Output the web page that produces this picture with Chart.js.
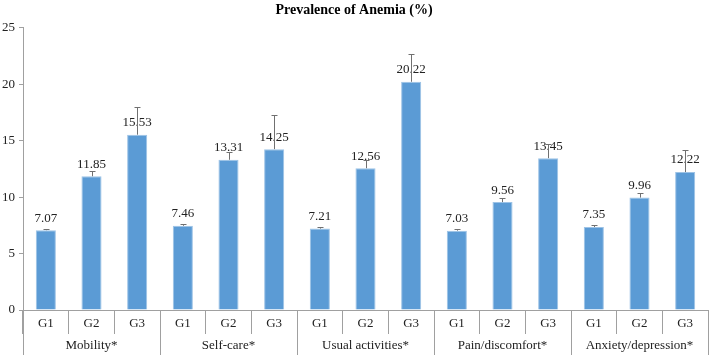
<!DOCTYPE html>
<html>
<head>
<meta charset="utf-8">
<script src="https://cdn.jsdelivr.net/npm/chart.js@4"></script>
<style>
  html, body { margin: 0; padding: 0; background: #fff; }
  #wrap { width: 709px; height: 355px; }
</style>
</head>
<body>
<div id="wrap"><canvas id="chart" width="709" height="355"></canvas></div>
<script>
const groups = ["Mobility*", "Self-care*", "Usual activities*", "Pain/discomfort*", "Anxiety/depression*"];
const subgroups = ["G1", "G2", "G3"];
const values = [7.07, 11.85, 15.53, 7.46, 13.31, 14.25, 7.21, 12.56, 20.22, 7.03, 9.56, 13.45, 7.35, 9.96, 12.22];
const upperErr = [7.2, 12.27, 18.0, 7.6, 14.0, 17.3, 7.35, 13.3, 22.7, 7.2, 9.95, 14.7, 7.5, 10.4, 14.2];
const yTicks = [0, 5, 10, 15, 20, 25];

const labels = [];
groups.forEach(() => subgroups.forEach(s => labels.push(s)));

const serif = "'Liberation Serif', 'Times New Roman', serif";

// value labels, then error bars on top of them
const barExtras = {
  id: "barExtras",
  afterDatasetsDraw(chart) {
    const ctx = chart.ctx;
    const meta = chart.getDatasetMeta(0);
    const y = chart.scales.y;
    ctx.save();
    ctx.font = "13px " + serif;
    ctx.fillStyle = "#222";
    ctx.textAlign = "center";
    ctx.textBaseline = "middle";
    meta.data.forEach((bar, i) => {
      ctx.fillText(values[i].toFixed(2), bar.x, bar.y - 12);
    });
    ctx.strokeStyle = "#707070";
    ctx.lineWidth = 1;
    meta.data.forEach((bar, i) => {
      const top = Math.round(y.getPixelForValue(upperErr[i])) + 0.5;
      const x = Math.round(bar.x) + 0.5;
      ctx.beginPath();
      ctx.moveTo(x, bar.y);
      ctx.lineTo(x, top);
      ctx.moveTo(x - 3, top);
      ctx.lineTo(x + 3, top);
      ctx.stroke();
    });
    ctx.restore();
  }
};

// group labels and group separators under the G1..G3 row
const groupAxis = {
  id: "groupAxis",
  afterDraw(chart) {
    const ctx = chart.ctx;
    const x = chart.scales.x;
    const n = subgroups.length;
    const half = (x.getPixelForValue(1) - x.getPixelForValue(0)) / 2;
    ctx.save();
    ctx.strokeStyle = "#a0a0a0";
    ctx.lineWidth = 1;
    ctx.font = "13px " + serif;
    ctx.fillStyle = "#222";
    ctx.textAlign = "center";
    ctx.textBaseline = "middle";
    const top = x.top;
    const bottom = chart.height;
    for (let g = 0; g <= groups.length; g++) {
      let px = g < groups.length ? x.getPixelForValue(g * n) - half : x.getPixelForValue(g * n - 1) + half;
      px = Math.round(px) + 0.5;
      ctx.beginPath();
      ctx.moveTo(px, top);
      ctx.lineTo(px, bottom);
      ctx.stroke();
    }
    groups.forEach((name, g) => {
      const cx = (x.getPixelForValue(g * n) + x.getPixelForValue(g * n + n - 1)) / 2;
      ctx.fillText(name, cx, x.top + 36);
    });
    ctx.restore();
  }
};

new Chart(document.getElementById("chart"), {
  type: "bar",
  data: {
    labels: labels,
    datasets: [{
      data: values,
      backgroundColor: "#5b9bd5",
      borderColor: "#9dc3e6",
      borderWidth: 1,
      barPercentage: 0.44,
      categoryPercentage: 1.0
    }]
  },
  options: {
    responsive: false,
    animation: false,
    layout: { padding: { left: 0, right: 1, top: 0, bottom: 0 } },
    plugins: {
      legend: { display: false },
      tooltip: { enabled: false },
      title: {
        display: true,
        text: "Prevalence of Anemia (%)",
        color: "#000",
        font: { family: serif, size: 14, weight: "bold" },
        padding: { top: 2, bottom: 9 }
      }
    },
    scales: {
      x: {
        grid: { offset: true, drawOnChartArea: false, tickLength: 24, color: "#a0a0a0" },
        border: { color: "#a0a0a0" },
        ticks: { color: "#222", font: { family: serif, size: 13 }, padding: -18, maxRotation: 0, autoSkip: false },
        afterFit(scale) { scale.height = 45; }
      },
      y: {
        min: 0,
        max: 25,
        afterBuildTicks(scale) { scale.ticks = yTicks.map(v => ({ value: v })); },
        grid: { drawOnChartArea: false, tickLength: 4, color: "#a0a0a0" },
        border: { color: "#a0a0a0" },
        ticks: { color: "#222", font: { family: serif, size: 13 }, padding: 4 },
        afterFit(scale) { scale.width = 23; }
      }
    }
  },
  plugins: [barExtras, groupAxis]
});
</script>
</body>
</html>
